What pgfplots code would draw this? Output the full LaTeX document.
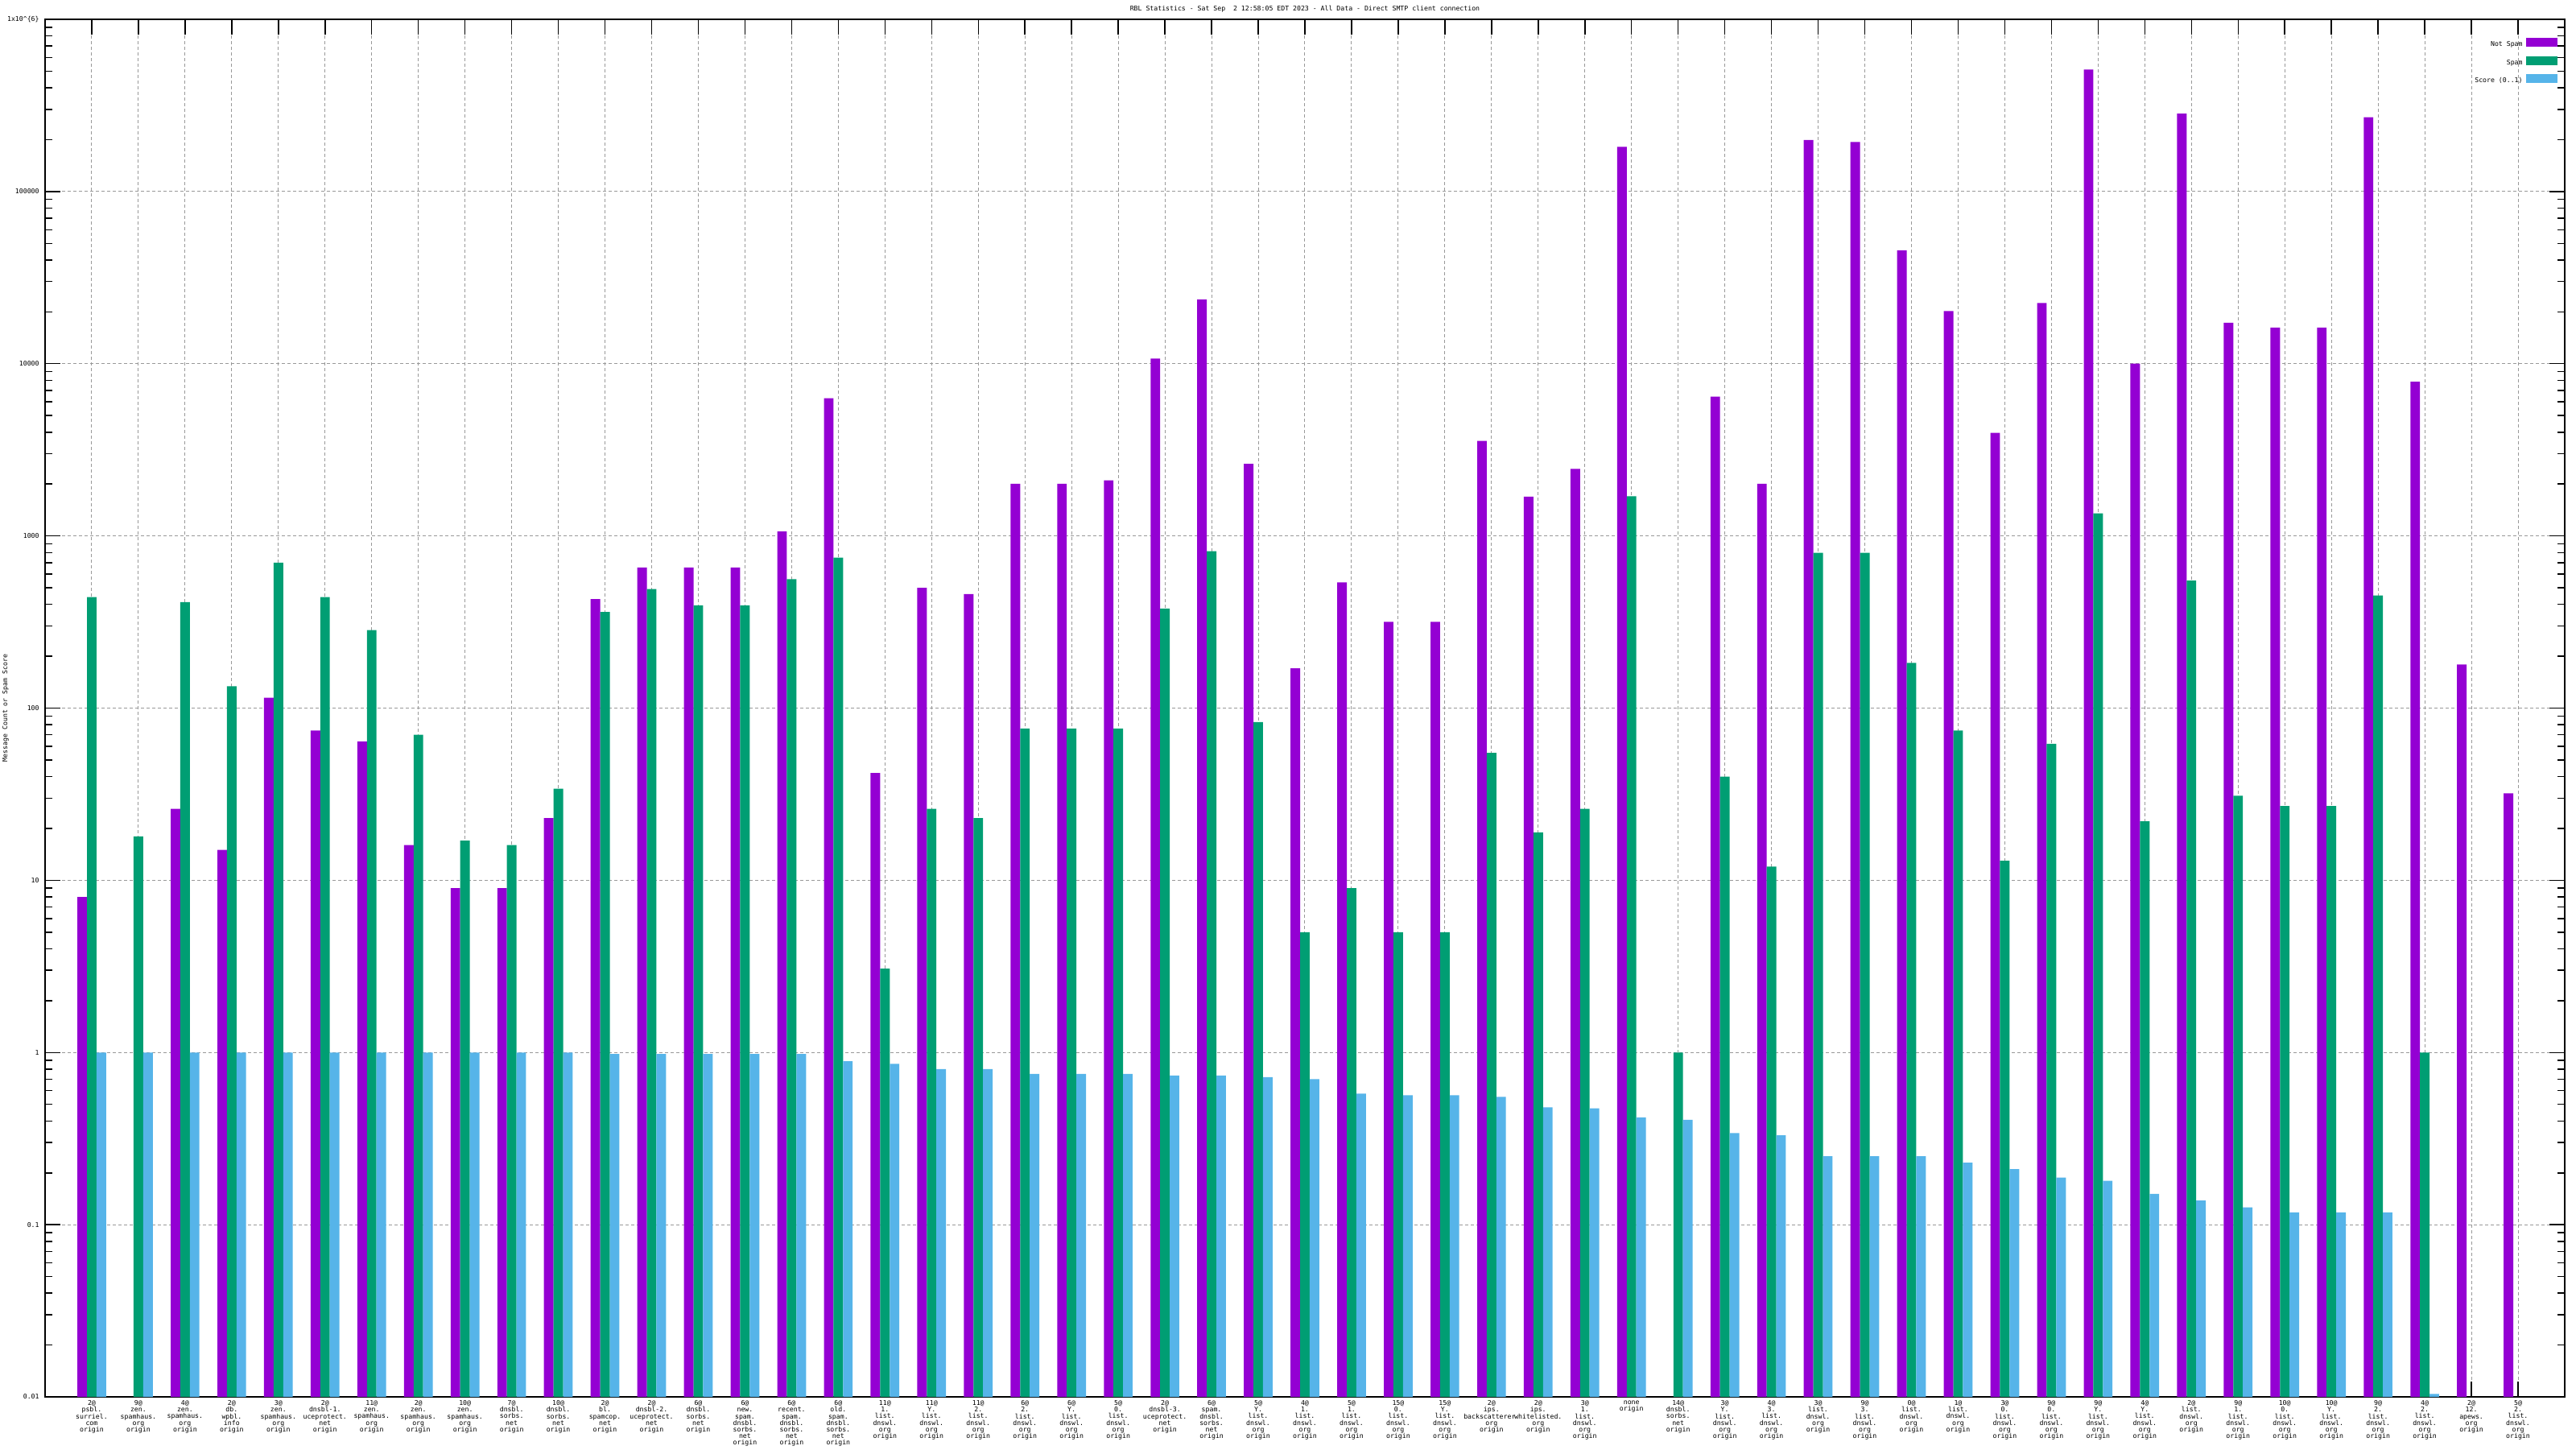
\documentclass[border=0pt]{standalone}
\usepackage{fontspec}
\setmainfont{DejaVu Sans Mono}
\usepackage{pgfplots}
\pgfplotsset{compat=1.18}
\definecolor{cNS}{HTML}{9400D3}
\definecolor{cSP}{HTML}{009E73}
\definecolor{cSC}{HTML}{56B4E9}
\newcommand\sz{\fontsize{4.1pt}{4.05pt}\selectfont}
\begin{document}
\begin{tikzpicture}
\useasboundingbox (0,0) rectangle (1600pt,900pt);
\begin{axis}[
  at={(28pt,32.5pt)}, anchor=south west,
  scale only axis, width=1565pt, height=855.5pt,
  clip=false,
  ymode=log, ymin=0.01, ymax=1000000, log origin=infty,
  xmin=-1, xmax=53,
  ybar, bar width=5.95pt,
  font=\sz,
  /pgf/number format/assume math mode=true,
  axis line style={line width=0.75pt},
  every tick/.style={black, line width=0.75pt},
  major tick length=9.5pt, minor tick length=4.5pt,
  tick align=inside, xtick pos=both, ytick pos=both,
  xtick={0,...,52},
  xticklabels={
    {2@\\psbl.\\surriel.\\com\\origin},
    {9@\\zen.\\spamhaus.\\org\\origin},
    {4@\\zen.\\spamhaus.\\org\\origin},
    {2@\\db.\\wpbl.\\info\\origin},
    {3@\\zen.\\spamhaus.\\org\\origin},
    {2@\\dnsbl-1.\\uceprotect.\\net\\origin},
    {11@\\zen.\\spamhaus.\\org\\origin},
    {2@\\zen.\\spamhaus.\\org\\origin},
    {10@\\zen.\\spamhaus.\\org\\origin},
    {7@\\dnsbl.\\sorbs.\\net\\origin},
    {10@\\dnsbl.\\sorbs.\\net\\origin},
    {2@\\bl.\\spamcop.\\net\\origin},
    {2@\\dnsbl-2.\\uceprotect.\\net\\origin},
    {6@\\dnsbl.\\sorbs.\\net\\origin},
    {6@\\new.\\spam.\\dnsbl.\\sorbs.\\net\\origin},
    {6@\\recent.\\spam.\\dnsbl.\\sorbs.\\net\\origin},
    {6@\\old.\\spam.\\dnsbl.\\sorbs.\\net\\origin},
    {11@\\1.\\list.\\dnswl.\\org\\origin},
    {11@\\Y.\\list.\\dnswl.\\org\\origin},
    {11@\\2.\\list.\\dnswl.\\org\\origin},
    {6@\\2.\\list.\\dnswl.\\org\\origin},
    {6@\\Y.\\list.\\dnswl.\\org\\origin},
    {5@\\0.\\list.\\dnswl.\\org\\origin},
    {2@\\dnsbl-3.\\uceprotect.\\net\\origin},
    {6@\\spam.\\dnsbl.\\sorbs.\\net\\origin},
    {5@\\Y.\\list.\\dnswl.\\org\\origin},
    {4@\\1.\\list.\\dnswl.\\org\\origin},
    {5@\\1.\\list.\\dnswl.\\org\\origin},
    {15@\\0.\\list.\\dnswl.\\org\\origin},
    {15@\\Y.\\list.\\dnswl.\\org\\origin},
    {2@\\ips.\\backscatterer.\\org\\origin},
    {2@\\ips.\\whitelisted.\\org\\origin},
    {3@\\1.\\list.\\dnswl.\\org\\origin},
    {none\\origin},
    {14@\\dnsbl.\\sorbs.\\net\\origin},
    {3@\\Y.\\list.\\dnswl.\\org\\origin},
    {4@\\3.\\list.\\dnswl.\\org\\origin},
    {3@\\list.\\dnswl.\\org\\origin},
    {9@\\3.\\list.\\dnswl.\\org\\origin},
    {0@\\list.\\dnswl.\\org\\origin},
    {1@\\list.\\dnswl.\\org\\origin},
    {3@\\0.\\list.\\dnswl.\\org\\origin},
    {9@\\0.\\list.\\dnswl.\\org\\origin},
    {9@\\Y.\\list.\\dnswl.\\org\\origin},
    {4@\\Y.\\list.\\dnswl.\\org\\origin},
    {2@\\list.\\dnswl.\\org\\origin},
    {9@\\1.\\list.\\dnswl.\\org\\origin},
    {10@\\0.\\list.\\dnswl.\\org\\origin},
    {10@\\Y.\\list.\\dnswl.\\org\\origin},
    {9@\\2.\\list.\\dnswl.\\org\\origin},
    {4@\\2.\\list.\\dnswl.\\org\\origin},
    {2@\\12.\\apews.\\org\\origin},
    {5@\\2.\\list.\\dnswl.\\org\\origin}
  },
  xticklabel style={font=\sz, align=center, anchor=north, inner sep=0pt, yshift=-2.2pt},
  ytick={0.01,0.1,1,10,100,1000,10000,100000,1000000},
  yticklabels={0.01,0.1,1,10,100,1000,10000,100000,1x10\textasciicircum\{6\}},
  minor ytick={0.02,0.03,0.04,0.05,0.06,0.07,0.08,0.09,
    0.2,0.3,0.4,0.5,0.6,0.7,0.8,0.9,
    2,3,4,5,6,7,8,9,
    20,30,40,50,60,70,80,90,
    200,300,400,500,600,700,800,900,
    2000,3000,4000,5000,6000,7000,8000,9000,
    20000,30000,40000,50000,60000,70000,80000,90000,
    200000,300000,400000,500000,600000,700000,800000,900000},
  yticklabel style={font=\sz, anchor=east, inner sep=0pt, xshift=-3.5pt},
  xmajorgrids, ymajorgrids,
  major grid style={color=black!40, line width=0.5pt, dash pattern=on 2pt off 1.5pt},
  ylabel={Message Count or Spam Score},
  ylabel style={font=\sz, at={(axis description cs:-0.01566,0.5)}, anchor=center, inner sep=0pt},
  legend cell align=right,
  legend plot pos=right,
  legend style={draw=none, fill=none, font=\sz, at={(rel axis cs:1,1)}, anchor=north east,
    xshift=-4.5pt, yshift=-11.5pt, inner sep=0pt, row sep=5pt, column sep=2pt,
    nodes={inner sep=0pt, text height=3pt, text depth=1pt}},
  legend image code/.code={\fill[#1] (0pt,-1.3pt) rectangle (19.5pt,4.2pt);},
]
\addplot[fill=cNS, draw=none, bar shift=-5.95pt] coordinates {
(0,8) (2,26) (3,15) (4,115) (5,74) (6,64) (7,16) (8,9) (9,9) (10,23)
(11,430) (12,655) (13,655) (14,655) (15,1060) (16,6300) (17,42) (18,500) (19,460) (20,2010)
(21,2010) (22,2100) (23,10700) (24,23600) (25,2620) (26,170) (27,537) (28,317) (29,317) (30,3560)
(31,1690) (32,2450) (33,182000) (35,6440) (36,2010) (37,199000) (38,194000) (39,45600) (40,20200)
(41,3970) (42,22500) (43,511000) (44,10000) (45,283000) (46,17300) (47,16200) (48,16200) (49,270000) (50,7850)
(51,179) (52,32)};
\addlegendentry{Not Spam}
\addplot[fill=cSP, draw=none, bar shift=0pt] coordinates {
(0,441) (1,18) (2,413) (3,134) (4,700) (5,441) (6,284) (7,70) (8,17) (9,16) (10,34)
(11,362) (12,492) (13,395) (14,395) (15,561) (16,748) (17,3.07) (18,26) (19,23) (20,76)
(21,76) (22,76) (23,378) (24,816) (25,83) (26,5) (27,9) (28,5) (29,5) (30,55)
(31,19) (32,26) (33,1700) (34,1) (35,40) (36,12) (37,798) (38,798) (39,183) (40,74)
(41,13) (42,62) (43,1352) (44,22) (45,550) (46,31) (47,27) (48,27) (49,451) (50,1)};
\addlegendentry{Spam}
\addplot[fill=cSC, draw=none, bar shift=5.95pt] coordinates {
(0,1) (1,1) (2,1) (3,1) (4,1) (5,1) (6,1) (7,1) (8,1) (9,1) (10,1)
(11,0.98) (12,0.98) (13,0.98) (14,0.98) (15,0.98) (16,0.89) (17,0.86) (18,0.8) (19,0.8) (20,0.75)
(21,0.75) (22,0.75) (23,0.735) (24,0.735) (25,0.72) (26,0.7) (27,0.577) (28,0.565) (29,0.565) (30,0.553)
(31,0.48) (32,0.474) (33,0.42) (34,0.406) (35,0.34) (36,0.33) (37,0.25) (38,0.25) (39,0.25) (40,0.229)
(41,0.21) (42,0.188) (43,0.18) (44,0.151) (45,0.138) (46,0.126) (47,0.118) (48,0.118) (49,0.118) (50,0.0104)};
\addlegendentry{Score (0..1)}
\node[font=\sz, anchor=center, inner sep=0pt, yshift=6.5pt] at (rel axis cs:0.5,1)
  {RBL Statistics - Sat Sep \ 2 12:58:05 EDT 2023 - All Data - Direct SMTP client connection};
\end{axis}
\end{tikzpicture}
\end{document}
